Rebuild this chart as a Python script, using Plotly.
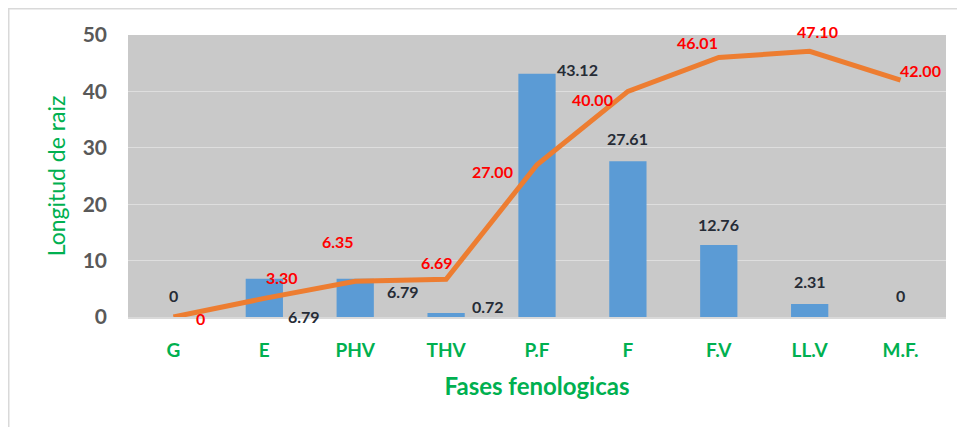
import plotly.graph_objects as go

categories = ["G", "E", "PHV", "THV", "P.F", "F", "F.V", "LL.V", "M.F."]
bar_values = [0, 6.79, 6.79, 0.72, 43.12, 27.61, 12.76, 2.31, 0]
bar_labels = ["0", "6.79", "6.79", "0.72", "43.12", "27.61", "12.76", "2.31", "0"]
line_values = [0, 3.30, 6.35, 6.69, 27.00, 40.00, 46.01, 47.10, 42.00]
line_labels = ["0", "3.30", "6.35", "6.69", "27.00", "40.00", "46.01", "47.10", "42.00"]
y_ticks = [0, 10, 20, 30, 40, 50]

# label offsets (pixels) relative to data points
bar_shift = [(0, 22), (40, -38), (48, -13), (42, 6), (40, 4), (0, 23), (0, 21), (0, 22), (0, 22)]
line_shift = [(27, -1), (18, 21), (-17, 40), (-9, 17), (-45, -7), (-35, -8), (-21, 15), (8, 20), (20, 10)]

FONT = "Lato"
GREEN = "#00B050"

fig = go.Figure()
fig.add_trace(go.Bar(x=categories, y=bar_values, marker=dict(color="#5B9BD5", line=dict(width=0)),
                     hoverinfo="x+y", showlegend=False))
fig.add_trace(go.Scatter(x=categories, y=line_values, mode="lines",
                         line=dict(color="#ED7D31", width=5), showlegend=False))

ann = []
for c, v, t, (dx, dy) in zip(categories, bar_values, bar_labels, bar_shift):
    ann.append(dict(x=c, y=v, text=t, showarrow=False, xshift=dx, yshift=dy,
                    font=dict(family=FONT, size=16, color="#262C36", weight="bold")))
for c, v, t, (dx, dy) in zip(categories, line_values, line_labels, line_shift):
    ann.append(dict(x=c, y=v, text=t, showarrow=False, xshift=dx, yshift=dy,
                    font=dict(family=FONT, size=16, color="#FF0000", weight="bold")))

W, H = 965, 427
ml, mr, mt, mb = 120, 27, 27, 118
pw, ph = W - ml - mr, H - mt - mb
def px(x):
    return (x - ml) / pw
def py(y):
    return (H - mb - y) / ph

shapes = [
    dict(type="line", xref="paper", yref="paper", x0=px(0), x1=px(W), y0=py(0.5), y1=py(0.5),
         line=dict(color="#D9D9D9", width=2)),
    dict(type="line", xref="paper", yref="paper", x0=px(0.5), x1=px(0.5), y0=py(0), y1=py(H),
         line=dict(color="#D9D9D9", width=2)),
]

fig.update_layout(
    width=W, height=H,
    margin=dict(l=ml, r=mr, t=mt, b=mb),
    paper_bgcolor="white", plot_bgcolor="#C9C9C9",
    bargap=0.59,
    annotations=ann, shapes=shapes,
    font=dict(family=FONT),
    xaxis=dict(showgrid=False, showline=True, linecolor="#D9D9D9", linewidth=2,
               ticks="", ticklabelstandoff=15,
               tickfont=dict(family=FONT, size=19, color=GREEN, weight="bold"),
               title=dict(text="Fases fenologicas", standoff=18,
                          font=dict(family=FONT, size=24, color=GREEN, weight="bold"))),
    yaxis=dict(range=[0, 50], tickvals=y_ticks, showgrid=True, gridcolor="#DEDEDE", gridwidth=1,
               zeroline=False, ticks="", ticklabelstandoff=20,
               tickfont=dict(family=FONT, size=21, color="#595959", weight="bold"),
               title=dict(text="Longitud de raiz", standoff=10,
                          font=dict(family=FONT, size=23, color=GREEN))),
)

fig.write_html("out.html")
